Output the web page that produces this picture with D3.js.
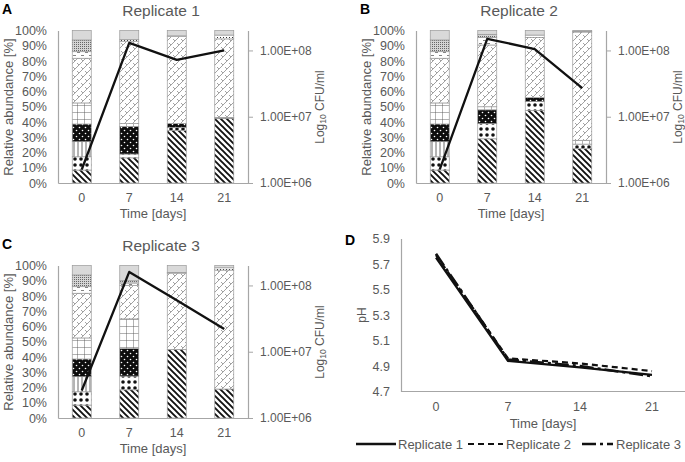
<!DOCTYPE html>
<html><head><meta charset="utf-8">
<script src="https://cdn.jsdelivr.net/npm/d3@7"></script>
<style>
body{margin:0;background:#fff}
svg{display:block}
text{font-family:"Liberation Sans",Arial,Helvetica,sans-serif}
</style>
</head><body>
<svg id="chart" width="685" height="462"></svg>
<script>
// ---------- data ----------
const days = ["0", "7", "14", "21"];
// taxa, stacked bottom -> top (each drawn with its own hatch pattern)
const taxa = ["stripes", "dotsWhite", "vlines", "blackDots", "grid", "zigzag", "smallDots", "dashes", "stipple", "other"];

// relative abundance [%], one row per day, values in taxa order
const rep1Abundance = [
  [8.5, 8.7, 9.9, 11.6, 13.8, 29.3, 0, 4.3, 7.7, 6.2],
  [16.5, 2.5, 0, 18, 2, 54, 1, 0, 0, 6],
  [34.5, 2, 0, 2.5, 0, 57, 0.5, 0, 0, 3.5],
  [42.5, 0, 0, 0.5, 0, 51.5, 2.5, 0, 0, 3]
];
const rep2Abundance = [
  [8.5, 8.7, 9.9, 11.6, 13.8, 29.3, 0, 4.3, 7.7, 6.2],
  [29, 10, 0, 9, 2, 40.5, 0, 5, 2, 2.5],
  [47.5, 6, 0, 2.5, 0, 39.5, 1.5, 0, 0, 3],
  [22.5, 3, 0, 0, 2.5, 71, 0.5, 0, 0, 0.5]
];
const rep3Abundance = [
  [8.5, 8.7, 9.9, 11.6, 13.8, 29.3, 0, 4.3, 7.7, 6.2],
  [18.5, 9, 0, 18, 19.5, 22, 0, 1.5, 1.5, 10],
  [45, 0, 0, 0, 0, 50, 0.5, 0, 0, 4.5],
  [19, 0, 0, 0, 0, 78, 1.5, 0, 0, 1.5]
];

// viable counts (CFU/ml, log axis)
const rep1CFU = [1.6e6, 1.3e8, 7.2e7, 1.0e8];
const rep2CFU = [1.6e6, 1.5e8, 1.05e8, 2.7e7];
const rep3CFU = [2.6e6, 1.6e8, 6.0e7, 2.2e7];

// pH
const rep1pH = [5.75, 4.94, 4.89, 4.83];
const rep2pH = [5.77, 4.96, 4.92, 4.86];
const rep3pH = [5.78, 4.95, 4.90, 4.82];

const pctTicks = [0, 10, 20, 30, 40, 50, 60, 70, 80, 90, 100];
const cfuTicks = [1e6, 1e7, 1e8];
const cfuTickLabels = ["1.00E+06", "1.00E+07", "1.00E+08"];
const pHTicks = [4.7, 4.9, 5.1, 5.3, 5.5, 5.7, 5.9];
const replicateNames = ["Replicate 1", "Replicate 2", "Replicate 3"];

// ---------- drawing ----------
const svg = d3.select("#chart");
const GRAY = "#595959";
const AXIS = "#a6a6a6";
const defs = svg.append("defs");

function pat(id, w, h, build) {
  const p = defs.append("pattern").attr("id", id).attr("width", w).attr("height", h)
    .attr("patternUnits", "userSpaceOnUse");
  build(p);
}
pat("p-stripes", 6, 6, p => {
  p.append("rect").attr("width", 6).attr("height", 6).attr("fill", "#fff");
  p.append("path").attr("d", "M0,0 L6,6 M-1.5,4.5 L1.5,7.5 M4.5,-1.5 L7.5,1.5")
    .attr("stroke", "#111").attr("stroke-width", 1.9);
});
pat("p-dotsWhite", 6, 6, p => {
  p.append("rect").attr("width", 6).attr("height", 6).attr("fill", "#fff");
  p.append("circle").attr("cx", 3).attr("cy", 3).attr("r", 1.8).attr("fill", "#111");
});
pat("p-vlines", 4, 4, p => {
  p.append("rect").attr("width", 4).attr("height", 4).attr("fill", "#fff");
  p.append("path").attr("d", "M2,0 V4").attr("stroke", "#444").attr("stroke-width", 0.8);
});
pat("p-blackDots", 6, 6, p => {
  p.append("rect").attr("width", 6).attr("height", 6).attr("fill", "#0d0d0d");
  p.append("circle").attr("cx", 1.5).attr("cy", 1.5).attr("r", 0.8).attr("fill", "#fff");
  p.append("circle").attr("cx", 4.5).attr("cy", 4.5).attr("r", 0.8).attr("fill", "#fff");
});
pat("p-grid", 7, 7, p => {
  p.append("rect").attr("width", 7).attr("height", 7).attr("fill", "#fff");
  p.append("path").attr("d", "M0,0 H7 M0,0 V7").attr("stroke", "#555").attr("stroke-width", 0.9);
});
pat("p-zigzag", 8, 8, p => {
  p.append("rect").attr("width", 8).attr("height", 8).attr("fill", "#fff");
  p.append("path").attr("d", "M0,8 L8,0 M1,3 L3,5 M5,7 L7,9 M5,-1 L7,1")
    .attr("stroke", "#8a8a8a").attr("stroke-width", 0.8).attr("fill", "none");
});
pat("p-smallDots", 3, 3, p => {
  p.append("rect").attr("width", 3).attr("height", 3).attr("fill", "#fff");
  p.append("rect").attr("x", 1).attr("y", 1).attr("width", 1).attr("height", 1).attr("fill", "#333");
});
pat("p-dashes", 8, 6, p => {
  p.append("rect").attr("width", 8).attr("height", 6).attr("fill", "#fff");
  p.append("path").attr("d", "M1,1.5 H4 M5,4.5 H8").attr("stroke", "#777").attr("stroke-width", 0.9);
});
pat("p-stipple", 2, 2, p => {
  p.append("rect").attr("width", 2).attr("height", 2).attr("fill", "#d4d4d4");
  p.append("rect").attr("width", 1).attr("height", 1).attr("fill", "#666");
});
pat("p-other", 4, 4, p => {
  p.append("rect").attr("width", 4).attr("height", 4).attr("fill", "#d9d9d9");
});

function barPanel(ox, oy, letter, title, abund, cfu) {
  const g = svg.append("g").attr("transform", `translate(${ox},${oy})`);
  const x = d3.scaleBand().domain(days).range([58, 248]).paddingInner(0.6).paddingOuter(0.3);
  const y = d3.scaleLinear().domain([0, 100]).range([183, 30.5]);
  const yR = d3.scaleLog().domain([1e6, 2e8]).range([183, 30.5]);

  // stacked bars
  const rows = [];
  abund.forEach((vals, di) => {
    let acc = 0;
    vals.forEach((v, ti) => {
      if (v > 0) rows.push({ day: days[di], taxon: taxa[ti], y0: acc, y1: acc + v });
      acc += v;
    });
  });
  g.selectAll("rect.seg").data(rows).join("rect").attr("class", "seg")
    .attr("x", d => x(d.day)).attr("width", x.bandwidth())
    .attr("y", d => y(d.y1)).attr("height", d => y(d.y0) - y(d.y1))
    .attr("fill", d => `url(#p-${d.taxon})`)
    .attr("stroke", "#9a9a9a").attr("stroke-width", 0.7);

  // axes
  const ax = g.append("g").attr("transform", "translate(58,0)")
    .call(d3.axisLeft(y).tickValues(pctTicks).tickSize(0).tickPadding(11).tickFormat(d => d + "%"));
  const axR = g.append("g").attr("transform", "translate(248,0)")
    .call(d3.axisRight(yR).tickValues(cfuTicks).tickSize(5).tickSizeOuter(0).tickPadding(7)
      .tickFormat((d, i) => cfuTickLabels[i]));
  const axB = g.append("g").attr("transform", "translate(0,183)")
    .call(d3.axisBottom(x).tickSize(0).tickPadding(10));
  [ax, axR, axB].forEach(a => {
    a.selectAll("path.domain").attr("stroke", AXIS).attr("stroke-width", 1.2);
    a.selectAll("line").attr("stroke", AXIS);
    a.selectAll("text").attr("fill", GRAY).style("font-size", "12.5px")
      .style("font-family", '"Liberation Sans",Arial,sans-serif');
  });
  axR.selectAll("text").style("font-size", "12px");

  // CFU line
  const line = d3.line().x((d, i) => x(days[i]) + x.bandwidth() / 2).y(d => yR(d));
  g.append("path").datum(cfu).attr("d", line).attr("fill", "none")
    .attr("stroke", "#111").attr("stroke-width", 2.3).attr("stroke-linejoin", "round");

  // texts
  g.append("text").attr("x", 161).attr("y", 16).attr("text-anchor", "middle")
    .attr("fill", GRAY).style("font-size", "15.5px").text(title);
  g.append("text").attr("x", 2).attr("y", 14).attr("fill", "#000")
    .style("font-size", "14px").style("font-weight", "bold").text(letter);
  g.append("text").attr("x", 153).attr("y", 218).attr("text-anchor", "middle")
    .attr("fill", GRAY).style("font-size", "13px").text("Time [days]");
  g.append("text").attr("transform", "translate(13,107) rotate(-90)").attr("text-anchor", "middle")
    .attr("fill", GRAY).style("font-size", "13px").text("Relative abundance [%]");
  const t = g.append("text").attr("transform", "translate(323.5,107) rotate(-90)").attr("text-anchor", "middle")
    .attr("fill", GRAY).style("font-size", "12px");
  t.append("tspan").text("Log");
  t.append("tspan").attr("dy", 2).style("font-size", "8.5px").text("10");
  t.append("tspan").attr("dy", -2).text(" CFU/ml");
}

barPanel(0, 0, "A", "Replicate 1", rep1Abundance, rep1CFU);
barPanel(358, 0, "B", "Replicate 2", rep2Abundance, rep2CFU);
barPanel(0, 235, "C", "Replicate 3", rep3Abundance, rep3CFU);

// ---------- panel D (pH) ----------
(function () {
  const g = svg.append("g");
  const x = d3.scaleBand().domain(days).range([400, 688]);
  const y = d3.scaleLinear().domain([4.7, 5.9]).range([391.5, 238.5]);
  const ax = g.append("g").attr("transform", "translate(401,0)")
    .call(d3.axisLeft(y).tickValues(pHTicks).tickSize(0).tickPadding(11).tickFormat(d3.format(".1f")));
  const axB = g.append("g").attr("transform", "translate(0,391.5)")
    .call(d3.axisBottom(x).tickSize(0).tickPadding(11));
  axB.select("path.domain").attr("d", "M401,0H685");
  [ax, axB].forEach(a => {
    a.selectAll("path.domain").attr("stroke", AXIS).attr("stroke-width", 1.2);
    a.selectAll("text").attr("fill", GRAY).style("font-size", "12.5px")
      .style("font-family", '"Liberation Sans",Arial,sans-serif');
  });
  const series = [
    { name: replicateNames[0], vals: rep1pH, dash: null, w: 2.3 },
    { name: replicateNames[1], vals: rep2pH, dash: "6,4", w: 2.2 },
    { name: replicateNames[2], vals: rep3pH, dash: "14,4,3,4", w: 2.6 }
  ];
  const line = d3.line().x((d, i) => x(days[i]) + x.bandwidth() / 2).y(d => y(d));
  series.forEach(s => {
    g.append("path").datum(s.vals).attr("d", line).attr("fill", "none")
      .attr("stroke", "#111").attr("stroke-width", s.w)
      .attr("stroke-dasharray", s.dash);
  });
  g.append("text").attr("x", 345).attr("y", 245).attr("fill", "#000")
    .style("font-size", "14px").style("font-weight", "bold").text("D");
  g.append("text").attr("transform", "translate(366,315) rotate(-90)").attr("text-anchor", "middle")
    .attr("fill", GRAY).style("font-size", "12px").text("pH");
  g.append("text").attr("x", 543).attr("y", 428).attr("text-anchor", "middle")
    .attr("fill", GRAY).style("font-size", "13px").text("Time [days]");

  // legend
  const lg = [
    { x0: 356, x1: 396, tx: 398 },
    { x0: 468, x1: 503, tx: 506 },
    { x0: 582, x1: 613, tx: 616 }
  ];
  series.forEach((s, i) => {
    g.append("line").attr("x1", lg[i].x0).attr("x2", lg[i].x1).attr("y1", 444).attr("y2", 444)
      .attr("stroke", "#111").attr("stroke-width", s.w).attr("stroke-dasharray", s.dash);
    g.append("text").attr("x", lg[i].tx).attr("y", 449).attr("fill", GRAY)
      .style("font-size", "13px").text(s.name);
  });
})();
</script>
</body></html>
